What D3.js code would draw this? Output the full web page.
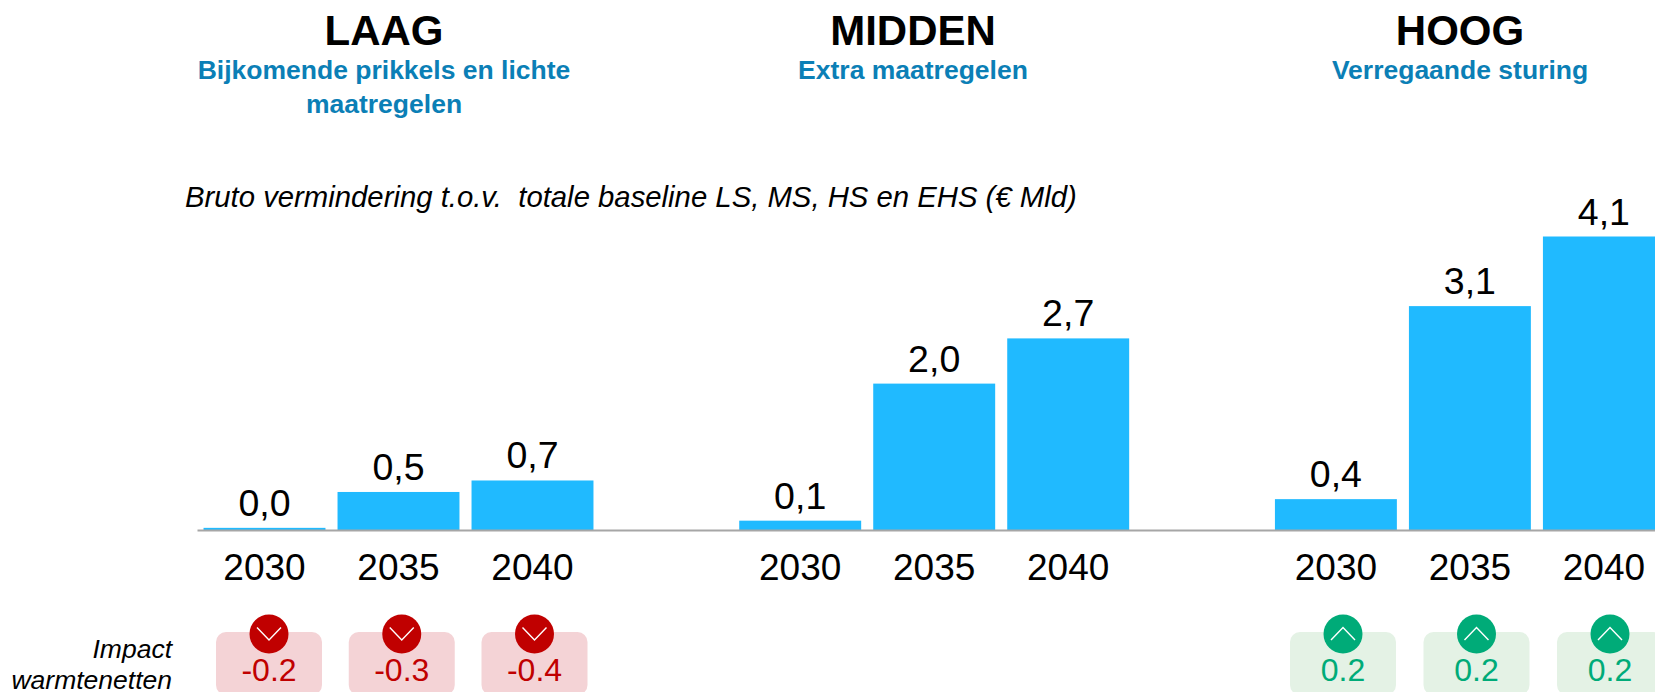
<!DOCTYPE html>
<html>
<head>
<meta charset="utf-8">
<script src="https://cdn.jsdelivr.net/npm/d3@7"></script>
<style>
    html, body { margin: 0; padding: 0; background: #fff; overflow: hidden; }
    text { font-family: "Liberation Sans", Arial, sans-serif; }
</style>
</head>
<body>
<div id="chart"></div>
<script>
const scenarios = ["LAAG", "MIDDEN", "HOOG"];
const subtitles = [
    ["Bijkomende prikkels en lichte", "maatregelen"],
    ["Extra maatregelen"],
    ["Verregaande sturing"]
];
const years = ["2030", "2035", "2040"];
const laagValues = [0.03, 0.53, 0.69];
const middenValues = [0.13, 2.04, 2.67];
const hoogValues = [0.43, 3.12, 4.09];
const laagLabels = ["0,0", "0,5", "0,7"];
const middenLabels = ["0,1", "2,0", "2,7"];
const hoogLabels = ["0,4", "3,1", "4,1"];
const laagImpact = ["-0.2", "-0.3", "-0.4"];
const middenImpact = [];
const hoogImpact = ["0.2", "0.2", "0.2"];
const chartTitle = "Bruto vermindering t.o.v.  totale baseline LS, MS, HS en EHS (€ Mld)";
const impactTitle = ["Impact", "warmtenetten"];

const width = 1655;
const height = 692;
const baseline = 530;

const groups = scenarios.map((name, i) => ({
    name,
    subtitle: subtitles[i],
    values: [laagValues, middenValues, hoogValues][i],
    labels: [laagLabels, middenLabels, hoogLabels][i],
    impact: [laagImpact, middenImpact, hoogImpact][i]
}));

const svg = d3.select("#chart").append("svg")
    .attr("width", width)
    .attr("height", height)
    .style("display", "block");

const x0 = d3.scaleBand().domain(scenarios).range([197.5, 197.5 + 3 * 535.7]);
const x1 = d3.scaleBand().domain(years).range([0, 402]).paddingInner(0.09).paddingOuter(0.045);
const y = d3.scaleLinear().domain([0, 4.09]).range([baseline, 236.5]);

// ── Scenario headers ──
const headerX = d3.scaleOrdinal().domain(scenarios).range([384, 913, 1460]);

const header = svg.selectAll(".header")
    .data(groups)
    .enter()
    .append("g")
    .attr("class", "header")
    .attr("transform", d => `translate(${headerX(d.name)},0)`);

header.append("text")
    .attr("y", 45)
    .attr("text-anchor", "middle")
    .attr("font-size", 42)
    .attr("font-weight", "bold")
    .attr("fill", "#000")
    .text(d => d.name);

header.selectAll(".sub")
    .data(d => d.subtitle)
    .enter()
    .append("text")
    .attr("class", "sub")
    .attr("y", (d, i) => 79 + i * 33.5)
    .attr("text-anchor", "middle")
    .attr("font-size", 26.5)
    .attr("font-weight", "bold")
    .attr("fill", "#0b7fb6")
    .text(d => d);

svg.append("text")
    .attr("x", 185)
    .attr("y", 207)
    .attr("font-size", 29.3)
    .attr("font-style", "italic")
    .style("white-space", "pre")
    .text(chartTitle);

// ── Bars and year axis ──
const group = svg.selectAll(".group")
    .data(groups)
    .enter()
    .append("g")
    .attr("class", "group")
    .attr("transform", d => `translate(${x0(d.name)},0)`);

group.selectAll("rect")
    .data(d => d.values.map((v, i) => ({ year: years[i], value: v, label: d.labels[i] })))
    .enter()
    .append("rect")
    .attr("x", d => x1(d.year))
    .attr("y", d => y(d.value))
    .attr("width", x1.bandwidth())
    .attr("height", d => baseline - y(d.value))
    .attr("fill", "#20baff");

group.selectAll(".value")
    .data(d => d.values.map((v, i) => ({ year: years[i], value: v, label: d.labels[i] })))
    .enter()
    .append("text")
    .attr("class", "value")
    .attr("x", d => x1(d.year) + x1.bandwidth() / 2)
    .attr("y", d => y(d.value) - 12)
    .attr("text-anchor", "middle")
    .attr("font-size", 37.5)
    .attr("fill", "#000")
    .text(d => d.label);

group.append("g")
    .attr("transform", `translate(0,${baseline})`)
    .call(d3.axisBottom(x1).tickSize(0).tickPadding(23.5))
    .call(g => g.select(".domain").remove())
    .selectAll("text")
    .attr("font-size", 37)
    .attr("fill", "#000")
    .style("font-family", '"Liberation Sans", Arial, sans-serif');

svg.append("line")
    .attr("x1", 197.5)
    .attr("x2", width)
    .attr("y1", baseline + 0.5)
    .attr("y2", baseline + 0.5)
    .attr("stroke", "#a6a6a6")
    .attr("stroke-width", 2);

// ── Impact warmtenetten ──
svg.selectAll(".impact-title")
    .data(impactTitle)
    .enter()
    .append("text")
    .attr("class", "impact-title")
    .attr("x", 172)
    .attr("y", (d, i) => 658 + i * 31)
    .attr("text-anchor", "end")
    .attr("font-size", 26.5)
    .attr("font-style", "italic")
    .attr("fill", "#000")
    .text(d => d);

const impactX = {
    LAAG: d3.scalePoint().domain(years).range([269, 534.5]),
    HOOG: d3.scalePoint().domain(years).range([1343, 1610])
};

const impactCells = groups.filter(d => d.impact.length).flatMap(d =>
    d.impact.map((v, i) => ({ scenario: d.name, year: years[i], label: v, up: +v > 0 }))
);

const cell = svg.selectAll(".impact")
    .data(impactCells)
    .enter()
    .append("g")
    .attr("class", "impact")
    .attr("transform", d => `translate(${impactX[d.scenario](d.year)},632)`);

cell.append("rect")
    .attr("x", -53)
    .attr("y", 0)
    .attr("width", 106)
    .attr("height", 63)
    .attr("rx", 10)
    .attr("fill", d => d.up ? "#e4f2e5" : "#f4d3d6");

cell.append("circle")
    .attr("cy", 2)
    .attr("r", 19.5)
    .attr("fill", d => d.up ? "#00ab78" : "#c00000");

cell.append("path")
    .attr("d", d => d.up ? "M-12,8L0,-4.5L12,8" : "M-12,-4.5L0,8L12,-4.5")
    .attr("fill", "none")
    .attr("stroke", "#fff")
    .attr("stroke-width", 1.4);

cell.append("text")
    .attr("y", 49)
    .attr("text-anchor", "middle")
    .attr("font-size", 32)
    .attr("fill", d => d.up ? "#00ab78" : "#c00000")
    .text(d => d.label);
</script>
</body>
</html>
